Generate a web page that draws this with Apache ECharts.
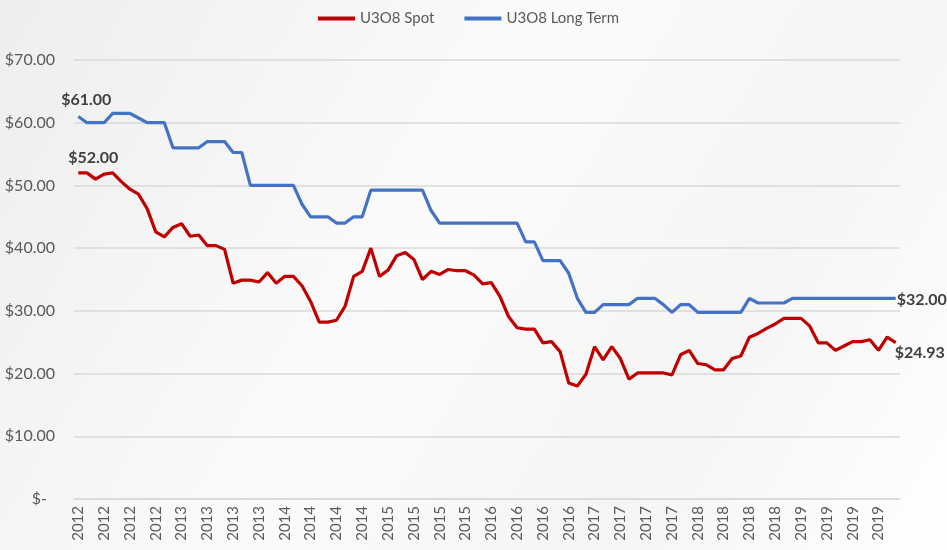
<!DOCTYPE html>
<html>
<head>
<meta charset="utf-8">
<script src="https://cdn.jsdelivr.net/npm/echarts@6/dist/echarts.min.js"></script>
<style>
  html, body { margin: 0; padding: 0; }
  #chart { width: 947px; height: 550px; }
</style>
</head>
<body>
<div id="chart"></div>
<script>
// one category per month, labelled with its year
var years = [2012, 2013, 2014, 2015, 2016, 2017, 2018, 2019]
var months = []
years.forEach(function (y) {
  for (var m = 0; m < 12; m++) months.push(String(y))
})

var spot = [
  52, 52, 51, 51.8, 52, 50.6, 49.4, 48.6, 46.3, 42.6, 41.8, 43.3,
  43.9, 41.9, 42.1, 40.4, 40.4, 39.8, 34.4, 34.9, 34.9, 34.6, 36.1, 34.4,
  35.5, 35.5, 34, 31.5, 28.2, 28.2, 28.5, 30.7, 35.5, 36.3, 40, 35.5,
  36.5, 38.8, 39.3, 38.2, 35, 36.3, 35.8, 36.6, 36.4, 36.4, 35.7, 34.3,
  34.5, 32.3, 29.1, 27.3, 27.1, 27.1, 24.9, 25.1, 23.5, 18.5, 18, 19.9,
  24.3, 22.2, 24.3, 22.4, 19.1, 20.1, 20.1, 20.1, 20.1, 19.8, 23, 23.7,
  21.6, 21.4, 20.6, 20.6, 22.4, 22.8, 25.8, 26.4, 27.2, 27.9, 28.8, 28.8,
  28.8, 27.6, 24.9, 24.9, 23.7, 24.4, 25.1, 25.1, 25.4, 23.7, 25.8, 24.93
]

var longTerm = [
  61, 60, 60, 60, 61.5, 61.5, 61.5, 60.75, 60, 60, 60, 56,
  56, 56, 56, 57, 57, 57, 55.25, 55.25, 50, 50, 50, 50,
  50, 50, 47, 45, 45, 45, 44, 44, 45, 45, 49.25, 49.25,
  49.25, 49.25, 49.25, 49.25, 49.25, 46, 44, 44, 44, 44, 44, 44,
  44, 44, 44, 44, 41, 41, 38, 38, 38, 36, 32, 29.75,
  29.75, 31, 31, 31, 31, 32, 32, 32, 31, 29.75, 31, 31,
  29.75, 29.75, 29.75, 29.75, 29.75, 29.75, 32, 31.25, 31.25, 31.25, 31.25, 32,
  32, 32, 32, 32, 32, 32, 32, 32, 32, 32, 32, 32
]

var seriesNames = ['U3O8 Spot', 'U3O8 Long Term']
var yTicks = [0, 10, 20, 30, 40, 50, 60, 70]

function money (v) {
  return '$' + v.toFixed(2)
}

// only the first and last points carry a label
function withEndLabels (values, firstOffset, lastOffset) {
  return values.map(function (v, i) {
    if (i === 0) {
      return { value: v, label: { show: true, position: 'top', offset: firstOffset } }
    }
    if (i === values.length - 1) {
      return { value: v, label: { show: true, position: 'right', offset: lastOffset } }
    }
    return v
  })
}

var labelFont = 'Lato, "Open Sans", sans-serif'

var chart = echarts.init(document.getElementById('chart'))
chart.setOption({
  backgroundColor: new echarts.graphic.LinearGradient(0, 0, 1, 1, [
    { offset: 0, color: '#eeeeee' },
    { offset: 0.45, color: '#fbfbfb' },
    { offset: 0.72, color: '#f5f5f5' },
    { offset: 1, color: '#ffffff' }
  ]),
  textStyle: { fontFamily: labelFont },
  animation: false,
  legend: {
    top: 6,
    left: 313,
    itemWidth: 37,
    itemHeight: 4,
    itemGap: 30,
    icon: 'rect',
    textStyle: { color: '#595959', fontSize: 15, fontFamily: labelFont },
    data: seriesNames
  },
  grid: {
    left: 74,
    right: 47,
    top: 60,
    bottom: 51
  },
  xAxis: {
    type: 'category',
    data: months,
    boundaryGap: true,
    axisLine: { lineStyle: { color: '#d9d9d9', width: 1.5 } },
    axisTick: { show: false },
    axisLabel: {
      interval: 2,
      rotate: 90,
      margin: 7,
      color: '#595959',
      fontSize: 15,
      fontFamily: labelFont
    }
  },
  yAxis: {
    type: 'value',
    min: yTicks[0],
    max: yTicks[yTicks.length - 1],
    interval: 10,
    axisLine: { show: false },
    axisTick: { show: false },
    splitLine: { lineStyle: { color: '#d9d9d9', width: 1.5 } },
    axisLabel: {
      margin: 19,
      color: '#595959',
      fontSize: 16,
      fontFamily: labelFont,
      formatter: function (v) {
        return v === 0 ? '{z|$-}' : money(v)
      },
      rich: {
        z: { color: '#595959', fontSize: 16, fontFamily: labelFont, padding: [0, 8, 0, 0] }
      }
    }
  },
  series: [
    {
      name: seriesNames[0],
      type: 'line',
      data: withEndLabels(spot, [15, -2], [-6, 10]),
      symbol: 'circle',
      symbolSize: 0,
      showSymbol: true,
      showAllSymbol: true,
      lineStyle: { color: '#c00000', width: 3.2 },
      itemStyle: { color: '#c00000' },
      label: {
        show: false,
        formatter: function (p) { return money(p.value) },
        color: '#404040',
        fontSize: 16,
        fontWeight: 'bold',
        fontFamily: labelFont
      },
      z: 3
    },
    {
      name: seriesNames[1],
      type: 'line',
      data: withEndLabels(longTerm, [8, -4], [-4, 2]),
      symbol: 'circle',
      symbolSize: 0,
      showSymbol: true,
      showAllSymbol: true,
      lineStyle: { color: '#4472c4', width: 3.2 },
      itemStyle: { color: '#4472c4' },
      label: {
        show: false,
        formatter: function (p) { return money(p.value) },
        color: '#404040',
        fontSize: 16,
        fontWeight: 'bold',
        fontFamily: labelFont
      },
      z: 2
    }
  ]
})
</script>
</body>
</html>
